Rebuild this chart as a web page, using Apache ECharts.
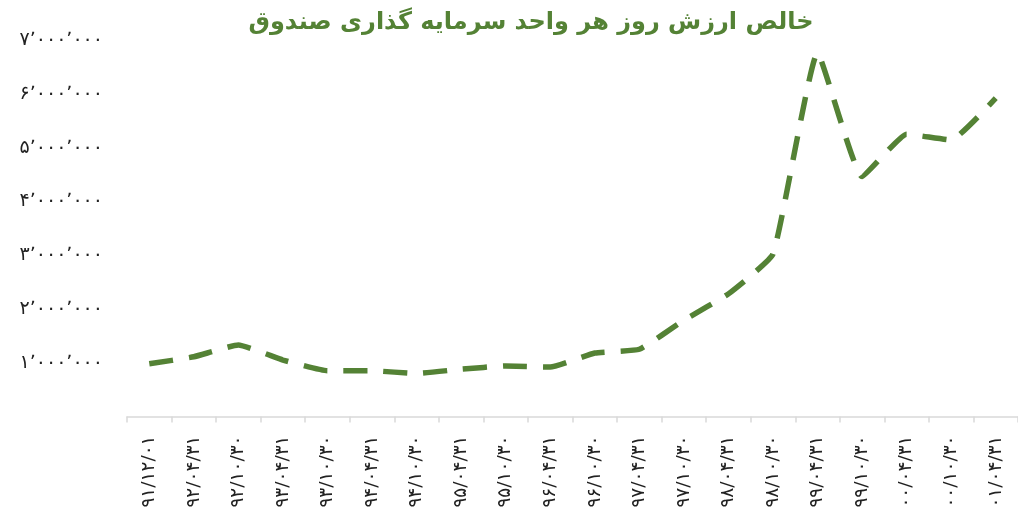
<!DOCTYPE html>
<html>
<head>
<meta charset="utf-8">
<script src="https://cdn.jsdelivr.net/npm/echarts@6/dist/echarts.min.js"></script>
<style>
html,body{margin:0;padding:0;background:#fff;}
#chart{width:1018px;height:516px;}
</style>
</head>
<body>
<div id="chart"></div>
<script>
const titleText = 'خالص ارزش روز هر واحد سرمایه گذاری صندوق';
const categories = ['۹۱/۱۲/۰۱','۹۲/۰۴/۳۱','۹۲/۱۰/۳۰','۹۳/۰۴/۳۱','۹۳/۱۰/۳۰','۹۴/۰۴/۳۱','۹۴/۱۰/۳۰','۹۵/۰۴/۳۱','۹۵/۱۰/۳۰','۹۶/۰۴/۳۱','۹۶/۱۰/۳۰','۹۷/۰۴/۳۱','۹۷/۱۰/۳۰','۹۸/۰۴/۳۱','۹۸/۱۰/۳۰','۹۹/۰۴/۳۱','۹۹/۱۰/۳۰','۰۰/۰۴/۳۱','۰۰/۱۰/۳۰','۰۱/۰۴/۳۱'];
const navValues = [980000,1110000,1330000,1050000,850000,850000,800000,880000,940000,920000,1180000,1250000,1790000,2280000,3020000,6760000,4460000,5250000,5140000,5920000];
const yTickLabels = ['','۱٬۰۰۰٬۰۰۰','۲٬۰۰۰٬۰۰۰','۳٬۰۰۰٬۰۰۰','۴٬۰۰۰٬۰۰۰','۵٬۰۰۰٬۰۰۰','۶٬۰۰۰٬۰۰۰','۷٬۰۰۰٬۰۰۰'];

const green = '#548235';
const chart = echarts.init(document.getElementById('chart'), null, {renderer:'canvas'});
chart.setOption({
  backgroundColor:'#ffffff',
  animation:false,
  title:{
    text:titleText,
    left:526, top:6, textAlign:'center',
    textStyle:{color:green, fontSize:24, fontWeight:'bold', fontFamily:'DejaVu Sans'}
  },
  grid:{left:127, right:-7, top:40, bottom:99.5, containLabel:false},
  xAxis:{
    type:'category',
    data:categories,
    boundaryGap:true,
    axisLine:{show:true, lineStyle:{color:'#d9d9d9', width:1.5}},
    axisTick:{show:true, alignWithLabel:false, length:6, lineStyle:{color:'#d9d9d9', width:1.5}},
    axisLabel:{rotate:90, interval:0, margin:19, color:'#222', fontSize:18.5, fontFamily:'DejaVu Sans'}
  },
  yAxis:{
    type:'value',
    min:0, max:7000000, interval:1000000,
    axisLine:{show:false},
    axisTick:{show:false},
    splitLine:{show:false},
    axisLabel:{
      margin:24, color:'#222', fontSize:19, fontFamily:'DejaVu Sans',
      formatter:function(v){ return yTickLabels[Math.round(v/1000000)] || ''; }
    }
  },
  series:[{
    type:'line',
    data:navValues,
    smooth:0.12,
    symbol:'none',
    lineStyle:{color:green, width:5.5, type:[24,16], cap:'butt'}
  }]
});
</script>
</body>
</html>
